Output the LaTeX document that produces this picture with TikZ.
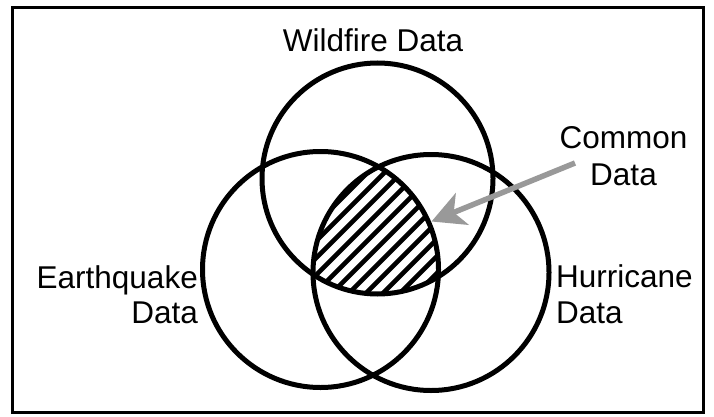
\documentclass[tikz,border=0pt]{standalone}
\usepackage{fontspec}
\setmainfont{Liberation Sans}
\usetikzlibrary{arrows.meta}
\definecolor{arrowgray}{HTML}{999999}
\begin{document}
\begin{tikzpicture}[x=1pt,y=-1pt,
  ring/.style={circle, draw=black, line width=5pt, inner sep=0pt, minimum size=#1},
  txt/.style={font=\fontsize{31.5}{36}\selectfont, inner sep=0pt},
  hatchline/.style={line width=4.6pt},
  pointer/.style={draw=arrowgray, line width=5.5pt, -{Stealth[length=33pt,width=34pt,inset=9pt]}}
]
\useasboundingbox (0,0) rectangle (714,417);
\draw[line width=3pt] (12,7.5) rectangle (703,412);
\coordinate (cT) at (377.5,178.5);
\coordinate (cL) at (320.5,269.5);
\coordinate (cR) at (431,272.5);
\begin{scope}
  \clip (cT) circle[radius=115.5pt];
  \clip (cL) circle[radius=118pt];
  \clip (cR) circle[radius=118pt];
  \foreach \k in {0,...,11} {
    \draw[hatchline] (250,{540+17*\k-250}) -- (520,{540+17*\k-520});
  }
\end{scope}
\node[ring=231pt] (wild) at (cT) {};
\node[ring=236pt] (quake) at (cL) {};
\node[ring=236pt] (hurr) at (cR) {};
\node[txt, anchor=base] (wildlbl) at (373,52) {Wildfire Data};
\node[txt, anchor=base] (comlbl1) at (623.5,148) {Common};
\node[txt, anchor=base] (comlbl2) at (623.5,185) {Data};
\node[txt, anchor=base east] (quakelbl1) at (198,288) {Earthquake};
\node[txt, anchor=base east] (quakelbl2) at (198,323) {Data};
\node[txt, anchor=base west] (hurrlbl1) at (556,287) {Hurricane};
\node[txt, anchor=base west] (hurrlbl2) at (556,323) {Data};
\coordinate (tail) at (575,163);
\coordinate (tip) at (431.5,221.5);
\draw[pointer] (tail) -- (tip);
\end{tikzpicture}
\end{document}
